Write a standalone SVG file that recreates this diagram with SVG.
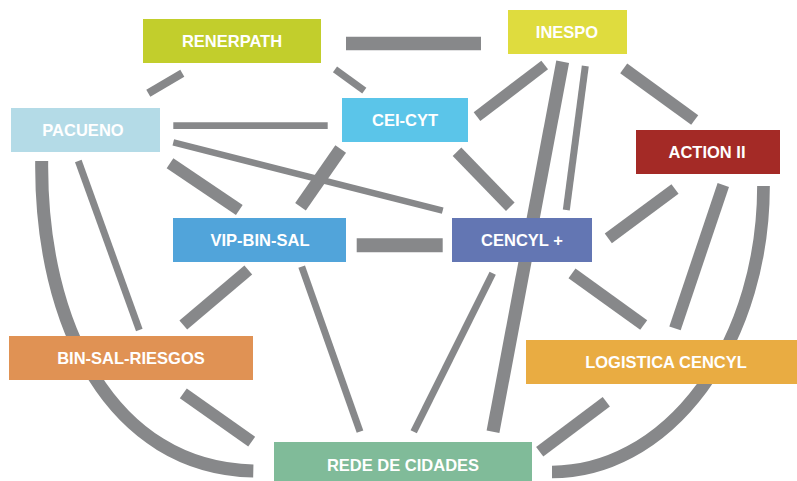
<svg xmlns="http://www.w3.org/2000/svg" width="797" height="481" viewBox="0 0 797 481">
<style>
.e{stroke:#87888a;fill:none;stroke-linecap:butt}
.t{fill:#ffffff;font-family:"Liberation Sans",Arial,sans-serif;font-weight:bold;font-size:16.5px;text-anchor:middle}
</style>
<rect width="797" height="481" fill="#ffffff"/>
<g id="connectors">
<line class="e" x1="346" y1="43.5" x2="481" y2="43.5" stroke-width="13.5"/>
<line class="e" x1="148.3" y1="93.3" x2="182.3" y2="73.3" stroke-width="8"/>
<line class="e" x1="335" y1="69.3" x2="364.3" y2="90.7" stroke-width="7"/>
<line class="e" x1="173.3" y1="125.7" x2="327.7" y2="125.7" stroke-width="6.7"/>
<line class="e" x1="173.3" y1="142.3" x2="442.7" y2="210.7" stroke-width="6.5"/>
<line class="e" x1="170" y1="163.3" x2="239.3" y2="210" stroke-width="12"/>
<line class="e" x1="340.7" y1="149" x2="300.5" y2="206.7" stroke-width="13"/>
<line class="e" x1="477" y1="116.7" x2="544.7" y2="65" stroke-width="11"/>
<line class="e" x1="457" y1="151.7" x2="510.3" y2="206.7" stroke-width="12"/>
<line class="e" x1="562.7" y1="61.7" x2="493" y2="431.7" stroke-width="13"/>
<line class="e" x1="585.3" y1="66" x2="566.3" y2="210" stroke-width="7"/>
<line class="e" x1="623.7" y1="68.3" x2="694.7" y2="120" stroke-width="12"/>
<line class="e" x1="675" y1="189" x2="608.3" y2="238.3" stroke-width="12"/>
<line class="e" x1="723.3" y1="185" x2="675" y2="328.3" stroke-width="12"/>
<path class="e" d="M763.5,186 A211.5,286 0 0 1 552,472" stroke-width="12.7"/>
<line class="e" x1="572" y1="273.3" x2="643.7" y2="325" stroke-width="12"/>
<line class="e" x1="492.7" y1="273.3" x2="413.7" y2="431.7" stroke-width="7"/>
<line class="e" x1="356.7" y1="245.3" x2="442.7" y2="245.3" stroke-width="14"/>
<line class="e" x1="248.3" y1="270" x2="183.3" y2="325" stroke-width="12"/>
<line class="e" x1="301.7" y1="266.7" x2="360" y2="431.7" stroke-width="7"/>
<line class="e" x1="78.3" y1="161" x2="139.3" y2="330" stroke-width="7"/>
<path class="e" d="M41.7,161 C40,325 112,468 253.3,471" stroke-width="13"/>
<line class="e" x1="183.3" y1="393.3" x2="251.7" y2="441.7" stroke-width="12"/>
<line class="e" x1="606.3" y1="401.7" x2="539.7" y2="451.7" stroke-width="12"/>
</g>
<g id="renerpath"><rect x="143" y="19" width="178" height="44" fill="#c2ce2c"/><text class="t" x="232" y="47">RENERPATH</text></g>
<g id="inespo"><rect x="508" y="10" width="119" height="44" fill="#dfdc3e"/><text class="t" x="567" y="38">INESPO</text></g>
<g id="pacueno"><rect x="11" y="108" width="149" height="44" fill="#b4dbe7"/><text class="t" x="83" y="136">PACUENO</text></g>
<g id="cei-cyt"><rect x="342" y="98" width="126" height="44" fill="#5bc5e9"/><text class="t" x="405" y="126">CEI-CYT</text></g>
<g id="action-ii"><rect x="636" y="130" width="144" height="44" fill="#a42a26"/><text class="t" x="707" y="158">ACTION II</text></g>
<g id="vip-bin-sal"><rect x="173" y="218" width="173" height="44" fill="#51a4da"/><text class="t" x="260" y="246">VIP-BIN-SAL</text></g>
<g id="cencyl"><rect x="452" y="218" width="140" height="44" fill="#6376b3"/><text class="t" x="522" y="246">CENCYL +</text></g>
<g id="bin-sal-riesgos"><rect x="9" y="336" width="244" height="44" fill="#e09254"/><text class="t" x="131" y="364">BIN-SAL-RIESGOS</text></g>
<g id="logistica-cencyl"><rect x="526" y="340" width="280" height="44" fill="#e9ac42"/><text class="t" x="666" y="368">LOGISTICA CENCYL</text></g>
<g id="rede-de-cidades"><rect x="274" y="442" width="258" height="44" fill="#80bb99"/><text class="t" x="403" y="471">REDE DE CIDADES</text></g>
</svg>
